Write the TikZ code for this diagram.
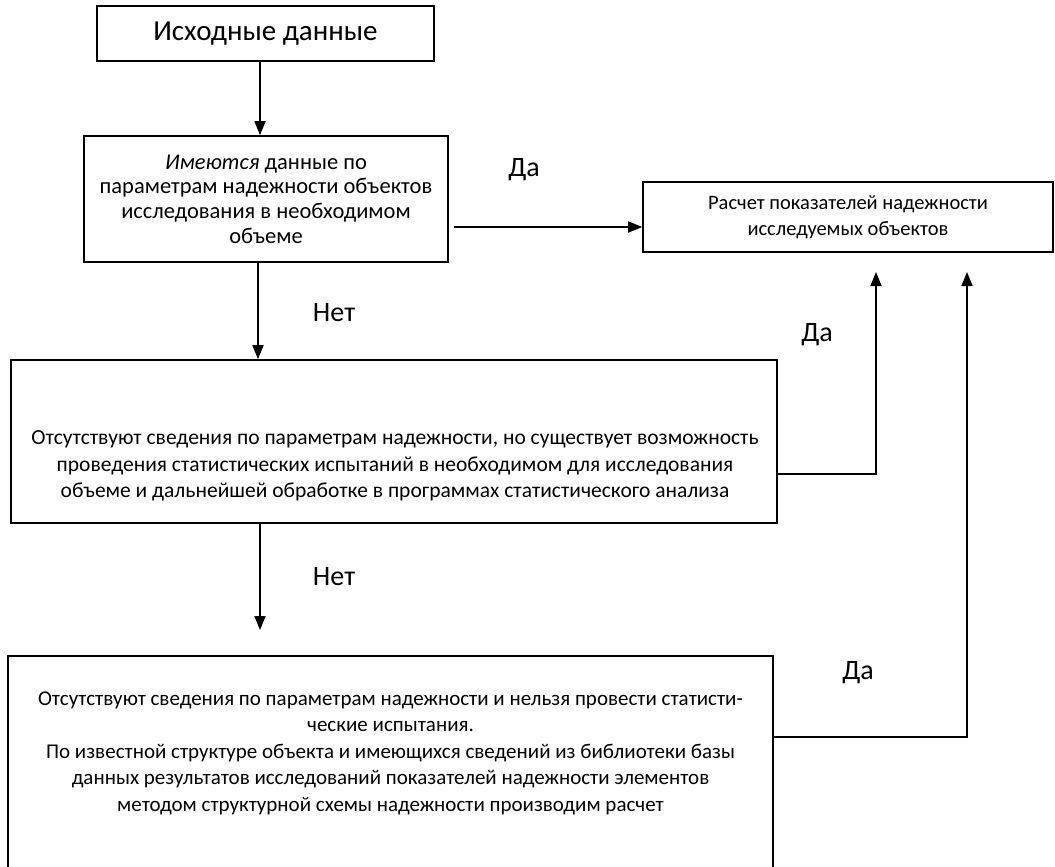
\documentclass[tikz,border=0pt]{standalone}
\usepackage{fontspec}
\setmainfont{Carlito}
\usetikzlibrary{arrows.meta}
\tikzset{
  box/.style={draw, line width=1.6pt, rectangle, align=center, inner sep=0pt},
  conn/.style={line width=1.6pt, -{Triangle[length=14pt,width=11pt]}},
  lbl/.style={inner sep=0pt, font=\fontsize{28}{32}\selectfont},
}
\begin{document}
\begin{tikzpicture}[x=1pt,y=-1pt]
\useasboundingbox (0,0) rectangle (1055,867);
\clip (0,0) rectangle (1055,867);
% boxes
\node[box, minimum width=337pt, minimum height=55pt, font=\fontsize{29}{33}\selectfont] (b1) at (265.5,33.5) {Исходные данные};
\node[box, minimum width=364pt, minimum height=126pt, font=\fontsize{22.5}{24.7}\selectfont] (b2) at (266,199) {\textit{Имеются} данные по\\параметрам надежности объектов\\исследования в необходимом\\объеме};
\node[box, minimum width=410pt, minimum height=70pt, font=\fontsize{20.5}{26}\selectfont] (b3) at (848,217) {Расчет показателей надежности\\исследуемых объектов};
\node[box, minimum width=766pt, minimum height=163pt] (b4) at (394,441.5) {};
\node[inner sep=0pt, align=center, font=\fontsize{21.5}{26.5}\selectfont] (b4t) at (395,466) {Отсутствуют сведения по параметрам надежности, но существует возможность\\проведения статистических испытаний в необходимом для исследования\\объеме и дальнейшей обработке в программах статистического анализа};
\node[box, minimum width=765pt, minimum height=240pt, anchor=north] (b5) at (390.5,655) {};
\node[inner sep=0pt, align=center, font=\fontsize{21}{26.5}\selectfont] (b5t) at (390.5,753) {Отсутствуют сведения по параметрам надежности и нельзя провести статисти-\\ческие испытания.\\По известной структуре объекта и имеющихся сведений из библиотеки базы\\данных результатов исследований показателей надежности элементов\\методом структурной схемы надежности производим расчет};
% free ends
\coordinate (t1) at (876,272);
\coordinate (t2) at (967,272);
\coordinate (e4) at (260,630);
% connectors
\draw[conn] (b1.south -| 260,0) -- (b2.north -| 260,0);
\draw[conn] (b2.east |- 0,227) ++(5,0) -- (b3.west |- 0,227);
\draw[conn] (b2.south -| 258,0) -- (b4.north -| 258,0);
\draw[conn] (b4.east |- 0,474) -| (t1);
\draw[conn] (b4.south -| 260,0) -- (e4);
\draw[conn] (b5.east |- 0,737) -| (t2);
% labels
\node[lbl] (l1) at (524,170) {Да};
\node[lbl] (l2) at (334,313) {Нет};
\node[lbl] (l3) at (817,335) {Да};
\node[lbl] (l4) at (334,577) {Нет};
\node[lbl] (l5) at (858,673) {Да};
\end{tikzpicture}
\end{document}
